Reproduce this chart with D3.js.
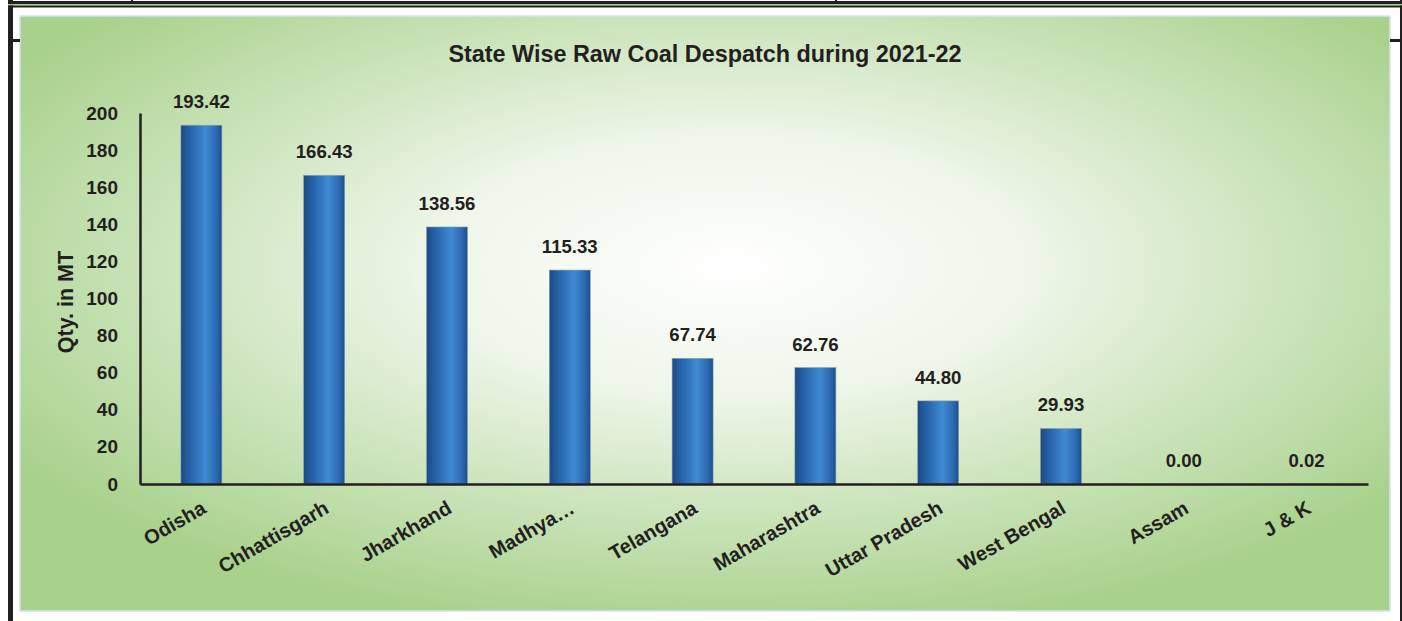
<!DOCTYPE html>
<html><head><meta charset="utf-8">
<script src="https://cdn.jsdelivr.net/npm/d3@7"></script>
<style>html,body{margin:0;padding:0;background:#fff;overflow:hidden}svg{display:block}</style>
</head><body>
<svg id="c" width="1402" height="621"></svg>
<script>
const categories = ["Odisha","Chhattisgarh","Jharkhand","Madhya…","Telangana","Maharashtra","Uttar Pradesh","West Bengal","Assam","J & K"];
const values = [193.42,166.43,138.56,115.33,67.74,62.76,44.80,29.93,0.00,0.02];
const yTicks = [0,20,40,60,80,100,120,140,160,180,200];
const title = "State Wise Raw Coal Despatch during 2021-22";
const yTitle = "Qty. in MT";

const svg = d3.select("#c");
const defs = svg.append("defs");
const rg = defs.append("radialGradient").attr("id","bg").attr("cx","52%").attr("cy","42%").attr("r","62%");
rg.append("stop").attr("offset","0%").attr("stop-color","#ffffff");
rg.append("stop").attr("offset","35%").attr("stop-color","#eef6e9");
rg.append("stop").attr("offset","100%").attr("stop-color","#a8d18b");
const bg = defs.append("linearGradient").attr("id","bar").attr("x1","0").attr("x2","1").attr("y1","0").attr("y2","0");
[["0%","#1b4a82"],["20%","#2560a6"],["60%","#3f8ad2"],["85%","#2d6cb4"],["100%","#1d4f8c"]].forEach(s=>bg.append("stop").attr("offset",s[0]).attr("stop-color",s[1]));

// page frame
svg.append("rect").attr("x",20).attr("y",16).attr("width",1370).attr("height",595).attr("fill","url(#bg)").attr("stroke","#d4e4ee").attr("stroke-width",1.5);
svg.append("rect").attr("x",8).attr("y",0).attr("width",5).attr("height",621).attr("fill","#231f20");
svg.append("rect").attr("x",1400).attr("y",0).attr("width",2).attr("height",621).attr("fill","#231f20");
svg.append("rect").attr("x",8).attr("y",1).attr("width",1394).attr("height",3).attr("fill","#231f20");
svg.append("rect").attr("x",8).attr("y",4).attr("width",1394).attr("height",1.5).attr("fill","#a8d18b");
svg.append("rect").attr("x",8).attr("y",5.5).attr("width",1394).attr("height",2).attr("fill","#231f20");
svg.append("rect").attr("x",13).attr("y",39).attr("width",7).attr("height",3).attr("fill","#231f20");
svg.append("rect").attr("x",1390).attr("y",39).attr("width",10).attr("height",3).attr("fill","#231f20");
svg.append("rect").attr("x",131).attr("y",0).attr("width",2).attr("height",4).attr("fill","#231f20");
svg.append("rect").attr("x",835).attr("y",0).attr("width",2).attr("height",4).attr("fill","#231f20");

const x0 = 140, x1 = 1368, yb = 484, yt = 113;
const x = d3.scaleBand().domain(categories).range([x0,x1]).paddingInner(0.666).paddingOuter(0.333);
const y = d3.scaleLinear().domain([0,200]).range([yb,yt]);
const font = "'Liberation Sans', Arial, sans-serif";
const tc = "#231f20";

svg.append("text").attr("x",705).attr("y",62).attr("text-anchor","middle").attr("font-family",font).attr("font-weight","bold").attr("font-size",23.4).attr("fill",tc).text(title);

svg.append("text").attr("transform","translate(73,302) rotate(-90)").attr("text-anchor","middle").attr("font-family",font).attr("font-weight","bold").attr("font-size",21.5).attr("fill",tc).text(yTitle);

// bars
svg.append("g").selectAll("rect").data(values).join("rect")
  .attr("x",(d,i)=>x(categories[i])).attr("width",x.bandwidth())
  .attr("y",d=>y(d)).attr("height",d=>yb-y(d))
  .attr("fill","url(#bar)").attr("stroke","#8aa0b4").attr("stroke-width",0.6);

// value labels
svg.append("g").selectAll("text").data(values).join("text")
  .attr("x",(d,i)=>x(categories[i])+x.bandwidth()/2).attr("y",d=>y(d)-17)
  .attr("text-anchor","middle").attr("font-family",font).attr("font-weight","bold").attr("font-size",18.6).attr("fill",tc)
  .text(d=>d.toFixed(2));

// y axis
const ya = svg.append("g").attr("transform",`translate(${x0},0)`).call(d3.axisLeft(y).tickValues(yTicks).tickSize(0).tickPadding(22));
ya.select(".domain").attr("stroke","#231f20").attr("stroke-width",2.5);
ya.selectAll("text").attr("font-family",font).attr("font-weight","bold").attr("font-size",19).attr("fill",tc);

// x axis
const xa = svg.append("g").attr("transform",`translate(0,${yb})`).call(d3.axisBottom(x).tickSize(0).tickSizeOuter(0).tickPadding(0));
xa.select(".domain").attr("stroke","#231f20").attr("stroke-width",2.5);
xa.selectAll("text").attr("font-family",font).attr("font-weight","bold").attr("font-size",20).attr("fill",tc)
  .attr("text-anchor","end").attr("dy","0").attr("y",0)
  .attr("transform","translate(6,28) rotate(-30)");
</script>
</body></html>
